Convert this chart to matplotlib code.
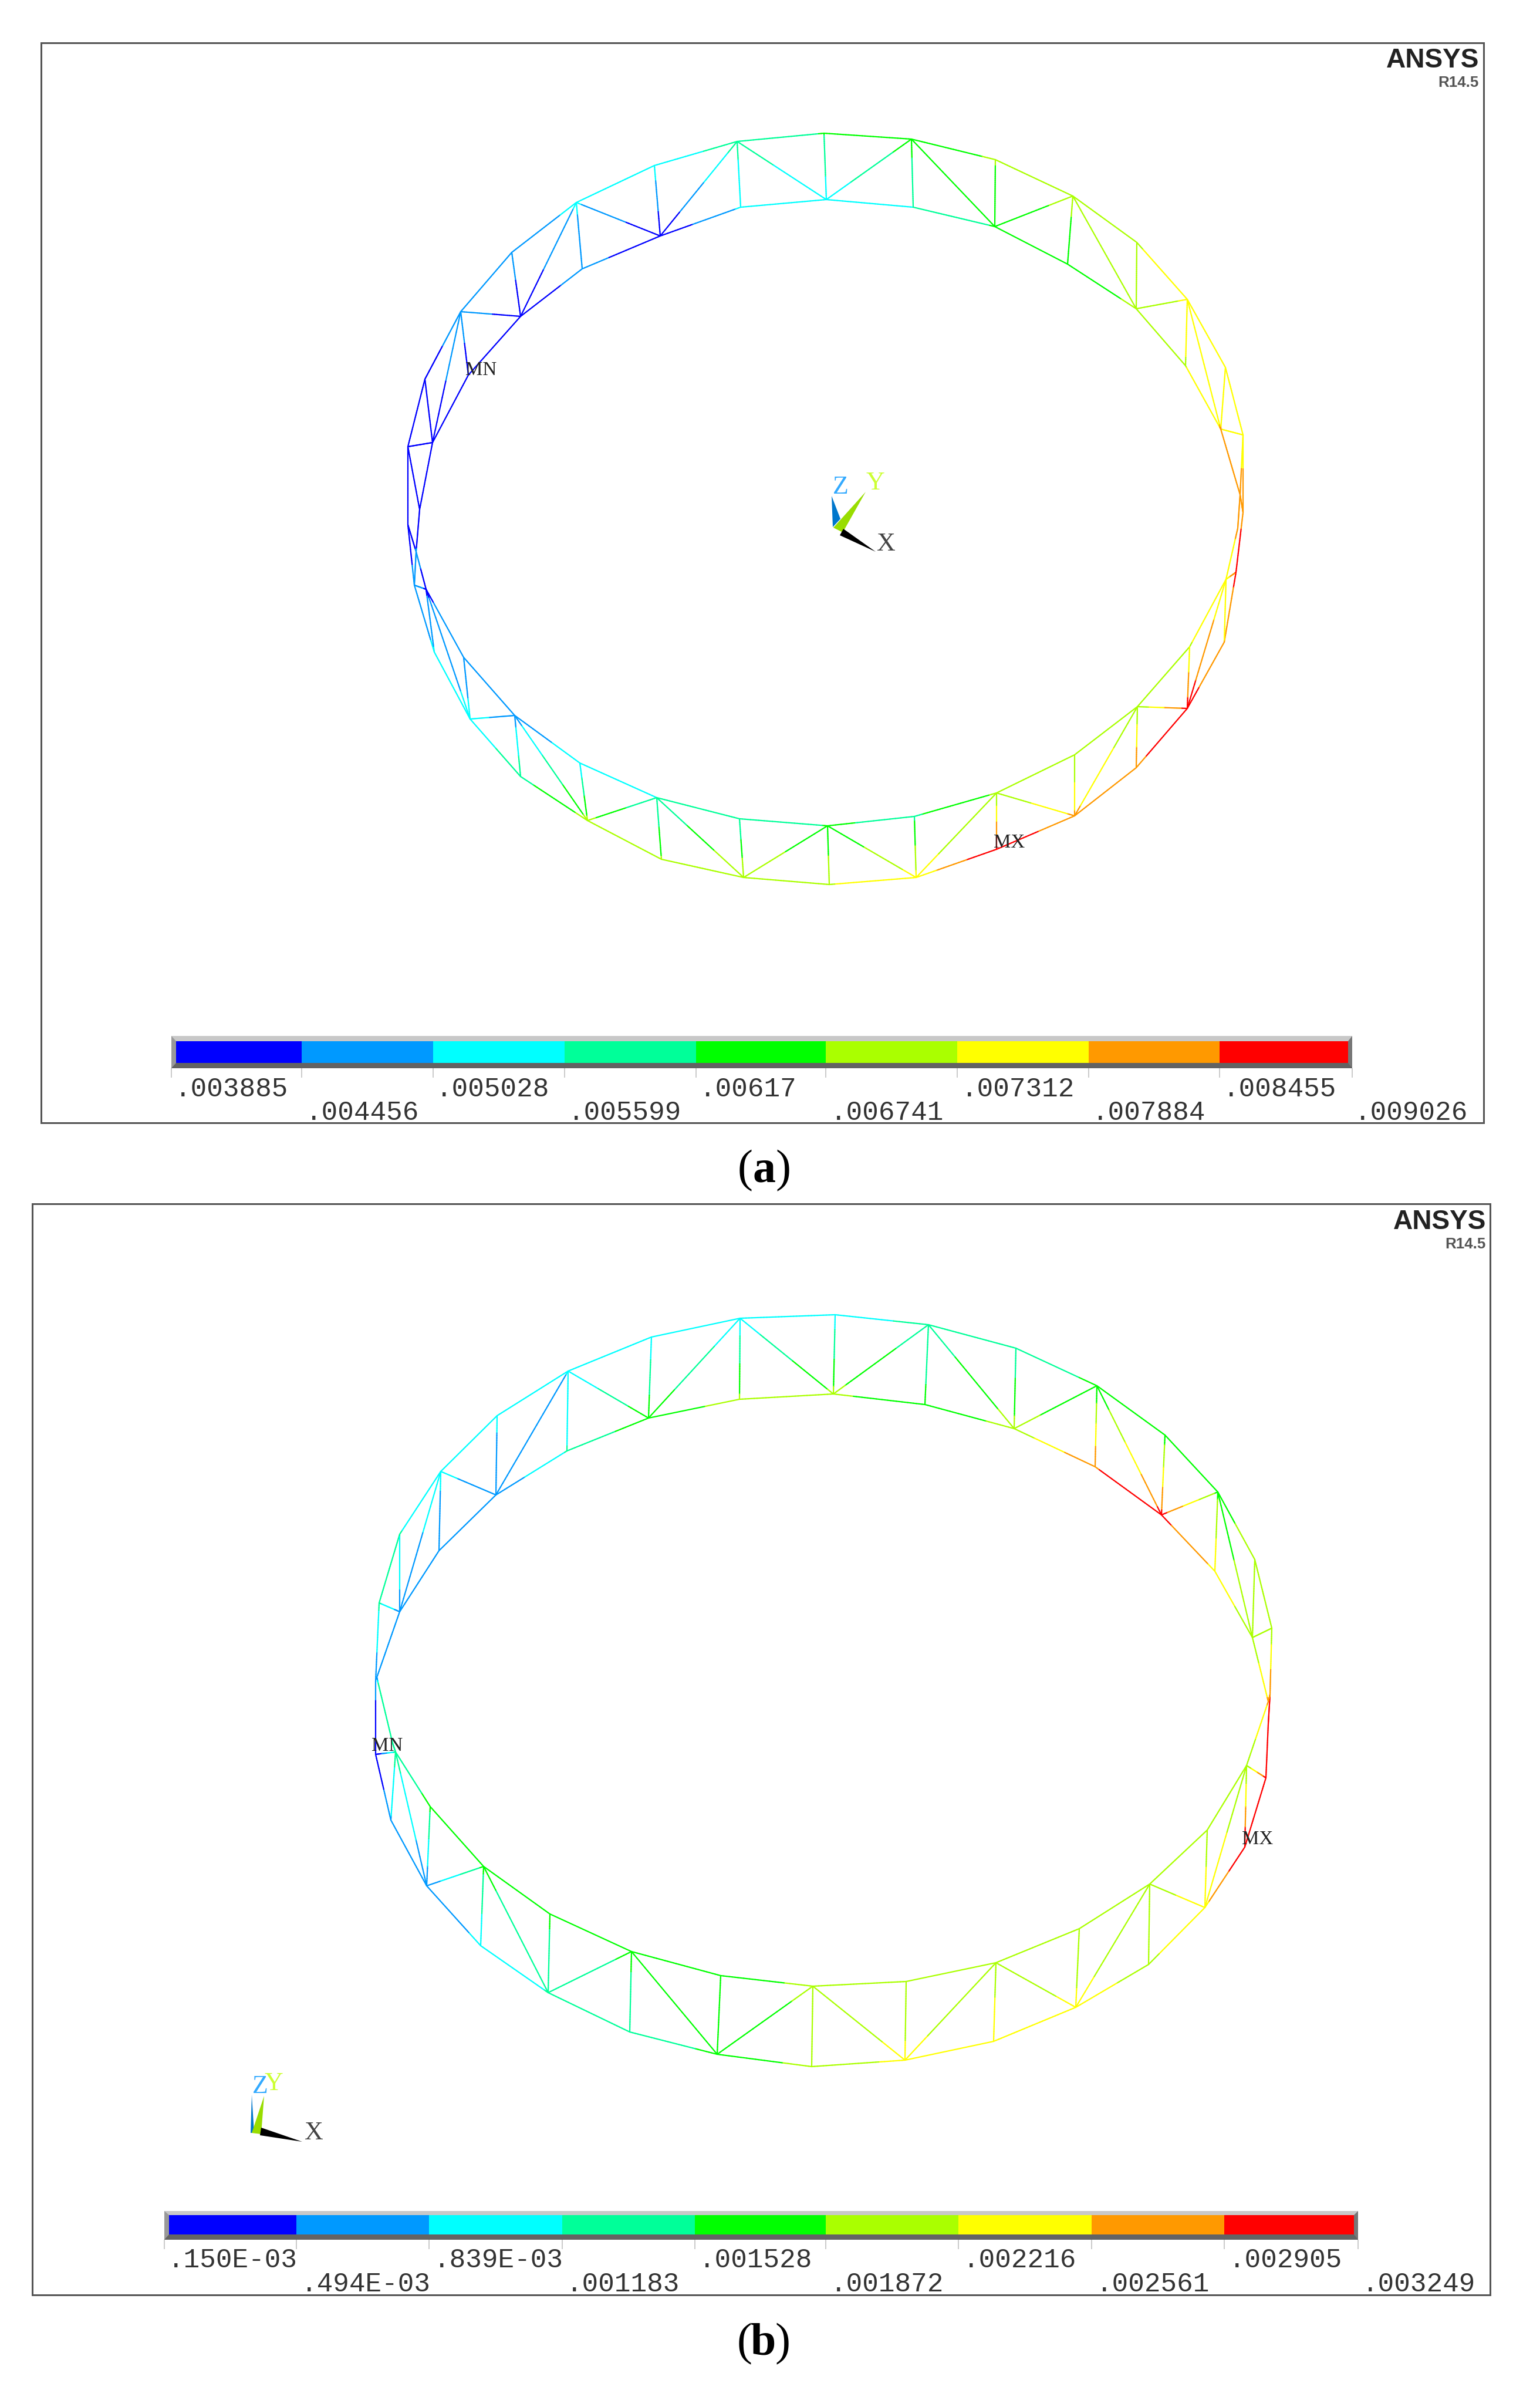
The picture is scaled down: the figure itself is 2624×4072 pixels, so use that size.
import matplotlib
matplotlib.use("Agg")
import matplotlib.pyplot as plt
import numpy as np
from matplotlib.collections import LineCollection
from matplotlib.colors import BoundaryNorm, ListedColormap
from matplotlib.patches import Polygon, Rectangle

# ---- contour bands
band_colors = ["#0000ff", "#0099ff", "#00ffff", "#00ff99", "#00ff00",
               "#aaff00", "#ffff00", "#ff9900", "#ff0000"]

a_levels = [.003885, .004456, .005028, .005599, .00617, .006741, .007312, .007884, .008455, .009026]
a_labels = [".003885", ".004456", ".005028", ".005599", ".00617", ".006741", ".007312", ".007884", ".008455", ".009026"]
b_levels = [.150e-3, .494e-3, .839e-3, .001183, .001528, .001872, .002216, .002561, .002905, .003249]
b_labels = [".150E-03", ".494E-03", ".839E-03", ".001183", ".001528", ".001872", ".002216", ".002561", ".002905", ".003249"]

# ---- panel a nodes (image pixels)
a_outer_x = [695, 724, 751, 785, 872, 982, 1115, 1256, 1404, 1553, 1696, 1828, 1937, 2023, 2088, 2118, 2118,
             2106, 2086, 2023, 1936, 1831, 1698, 1561, 1413, 1267, 1127, 1001, 887, 801, 740, 706, 695]
a_outer_y = [761, 646, 595, 531, 430, 345, 282, 241, 227, 237, 272, 334, 413, 510, 626, 741, 873,
             975, 1094, 1207, 1308, 1390, 1447, 1495, 1507, 1495, 1464, 1398, 1323, 1225, 1111, 997, 894]
a_outer_v = [.0041, .0041, .0044, .0050, .0048, .0051, .0053, .0058, .0062, .0064, .0068, .0070, .0073, .0074, .0074, .0075, .0084,
             .0086, .0079, .0087, .0084, .0080, .0090, .0075, .0073, .0073, .0068, .0069, .0060, .0052, .0051, .0047, .0040]
a_inner_x = [737, 798, 887, 992, 1125, 1262, 1408, 1556, 1695, 1819, 1936, 2020, 2080, 2113, 2109,
             2089, 2027, 1938, 1831, 1698, 1558, 1410, 1260, 1119, 988, 877, 790, 726, 709, 715]
a_inner_y = [754, 639, 539, 458, 402, 353, 340, 353, 386, 450, 526, 623, 731, 843, 900,
             987, 1102, 1204, 1286, 1351, 1391, 1407, 1395, 1359, 1300, 1219, 1120, 1004, 940, 868]
a_inner_v = [.0040, .0039, .0040, .0047, .0040, .0051, .0053, .0056, .0062, .0062, .0069, .0073, .0079, .0082, .0080,
             .0075, .0073, .0069, .0068, .0068, .0061, .0062, .0056, .0056, .0052, .0048, .0047, .0044, .0045, .0040]
a_web = [(0, 0), (1, 0), (3, 0), (3, 1), (3, 2), (4, 2), (5, 2), (5, 3), (5, 4), (6, 4), (7, 4), (7, 5), (7, 6), (8, 6),
         (9, 6), (9, 7), (9, 8), (10, 8), (11, 8), (11, 9), (11, 10), (12, 10), (13, 10), (13, 11), (13, 12), (14, 12),
         (15, 12), (15, 13), (16, 13), (17, 15), (18, 15), (19, 15), (19, 16), (19, 17), (20, 17), (21, 17), (21, 18),
         (21, 19), (22, 19), (23, 19), (23, 20), (23, 21), (24, 21), (25, 21), (25, 22), (25, 23), (26, 23), (27, 23),
         (27, 24), (27, 25), (28, 25), (29, 25), (29, 26), (29, 27), (30, 27), (31, 27), (31, 28), (32, 28), (0, 29)]

# ---- panel b nodes
b_outer_x = [640, 646, 681, 751, 847, 968, 1110, 1261, 1423, 1582, 1731, 1869, 1985, 2075, 2138, 2167, 2164,
             2161, 2157, 2121, 2053, 1957, 1833, 1693, 1542, 1383, 1222, 1073, 934, 819, 727, 666, 640]
b_outer_y = [2865, 2731, 2614, 2507, 2412, 2336, 2278, 2246, 2240, 2257, 2297, 2361, 2445, 2542, 2657, 2774, 2887,
             2937, 3029, 3147, 3250, 3347, 3420, 3478, 3510, 3521, 3500, 3462, 3395, 3315, 3213, 3101, 2989]
b_outer_v = [.60e-3, 1.25e-3, 1.2e-3, .95e-3, .9e-3, .85e-3, .95e-3, .95e-3, 1.0e-3, 1.3e-3, 1.25e-3, 1.6e-3, 1.7e-3, 1.8e-3, 1.95e-3, 2.0e-3, 2.9e-3,
             2.95e-3, 3.1e-3, 3.2e-3, 2.5e-3, 2.15e-3, 2.3e-3, 2.55e-3, 2.3e-3, 2.0e-3, 1.6e-3, 1.3e-3, 1.2e-3, .9e-3, .6e-3, .8e-3, .15e-3]
b_inner_x = [681, 748, 845, 966, 1105, 1260, 1420, 1576, 1728, 1866, 1979, 2070, 2134, 2161, 2124,
             2057, 1959, 1839, 1697, 1544, 1385, 1228, 1076, 937, 824, 733, 674, 669, 644, 642]
b_inner_y = [2746, 2642, 2547, 2472, 2416, 2384, 2375, 2393, 2434, 2499, 2581, 2677, 2790, 2899, 3008,
             3118, 3210, 3286, 3344, 3376, 3384, 3366, 3325, 3261, 3180, 3078, 2985, 2970, 2866, 2858]
b_inner_v = [.7e-3, .5e-3, .6e-3, 1.2e-3, 1.75e-3, 1.95e-3, 1.95e-3, 1.6e-3, 2.0e-3, 2.9e-3, 3.0e-3, 2.5e-3, 1.95e-3, 2.6e-3, 1.95e-3,
             1.95e-3, 1.95e-3, 1.95e-3, 1.95e-3, 1.95e-3, 1.95e-3, 1.7e-3, 1.6e-3, 1.6e-3, 1.6e-3, 1.6e-3, 1.3e-3, 1.2e-3, 1.2e-3, .5e-3]
b_web = [(1, 0), (2, 0), (3, 0), (3, 1), (3, 2), (4, 2), (5, 2), (5, 3), (5, 4), (6, 4), (7, 4), (7, 5), (7, 6), (8, 6),
         (9, 6), (9, 7), (9, 8), (10, 8), (11, 8), (11, 9), (11, 10), (12, 10), (13, 10), (13, 11), (13, 12), (14, 12),
         (15, 12), (16, 13), (18, 14), (19, 14), (20, 14), (20, 15), (20, 16), (21, 16), (22, 16), (22, 17), (22, 18),
         (23, 18), (24, 18), (24, 19), (24, 20), (25, 20), (26, 20), (26, 21), (26, 22), (27, 22), (28, 22), (28, 23),
         (28, 24), (29, 24), (30, 24), (30, 25), (30, 26), (31, 26), (32, 26)]

W, H = 2624, 4072
PX = 0.72  # points per image pixel at dpi 100
MONO = "Liberation Mono"
SERIF = "Liberation Serif"

fig = plt.figure(figsize=(W / 100, H / 100), dpi=100, facecolor="white")


def panel(left, top, right, bottom):
    ax = fig.add_axes([left / W, 1 - bottom / H, (right - left) / W, (bottom - top) / H])
    ax.set_xlim(left, right)
    ax.set_ylim(bottom, top)
    ax.set_xticks([])
    ax.set_yticks([])
    for s in ax.spines.values():
        s.set_linewidth(3 * PX)
        s.set_color("#555555")
    return ax


def draw_truss(ax, ox, oy, ov, ix, iy, iv, web, levels):
    # outer loop, inner loop and web members, coloured in bands like a contour plot
    nodes_x = list(ox) + list(ix)
    nodes_y = list(oy) + list(iy)
    vals = list(ov) + list(iv)
    n_o, n_i = len(ox), len(ix)
    edges = [(k, (k + 1) % n_o) for k in range(n_o)]
    edges += [(n_o + k, n_o + (k + 1) % n_i) for k in range(n_i)]
    edges += [(o, n_o + i) for o, i in web]
    segs, seg_vals = [], []
    for p, q in edges:
        t = np.linspace(0, 1, 33)
        xs = nodes_x[p] + (nodes_x[q] - nodes_x[p]) * t
        ys = nodes_y[p] + (nodes_y[q] - nodes_y[p]) * t
        vs = vals[p] + (vals[q] - vals[p]) * t
        for k in range(len(t) - 1):
            segs.append([(xs[k], ys[k]), (xs[k + 1], ys[k + 1])])
            seg_vals.append((vs[k] + vs[k + 1]) / 2)
    lc = LineCollection(segs, cmap=ListedColormap(band_colors), norm=BoundaryNorm(levels, 9),
                        linewidths=2.2 * PX, capstyle="round")
    lc.set_array(np.clip(seg_vals, levels[0], levels[-1] - 1e-9))
    ax.add_collection(lc)


def legend_bar(ax, levels, labels, tick_x, text_x, bar, text_y):
    x0, x1, y0, fy0, fy1, y1 = bar
    # bevel round the bar
    ax.add_patch(Rectangle((x0, y0), x1 - x0, fy0 - y0, fc="#c8c8c8", ec="none"))
    ax.add_patch(Rectangle((x0, fy1), x1 - x0, y1 - fy1, fc="#636363", ec="none"))
    ax.add_patch(Polygon([(x0, y0), (tick_x[0] + 8, fy0), (tick_x[0] + 8, fy1), (x0, y1)], fc="#999999", ec="none"))
    ax.add_patch(Polygon([(x1, y0), (tick_x[-1] - 7, fy0), (tick_x[-1] - 7, fy1), (x1, y1)], fc="#777777", ec="none"))
    edges = list(tick_x)
    edges[0] += 8
    edges[-1] -= 7
    ax.barh([(fy0 + fy1) / 2] * 9, np.diff(edges), left=edges[:-1], height=fy1 - fy0, color=band_colors, linewidth=0)
    ax.vlines(tick_x, y1, y1 + 16, color="#bbbbbb", lw=1.5 * PX)
    for k, lab in enumerate(labels):
        ax.text(text_x[k] - 4, text_y[k % 2], lab, family=MONO, fontsize=46 * PX, color="#333333",
                ha="left", va="baseline")


def triad(ax, z, y, x, labels):
    ax.add_patch(Polygon(z, fc="#0077cc", ec="none"))
    ax.add_patch(Polygon(y, fc="#99dd00", ec="none"))
    ax.add_patch(Polygon(x, fc="black", ec="none"))
    for (lx, ly, s, c) in labels:
        ax.text(lx, ly, s, family=SERIF, fontsize=44 * PX, color=c, ha="center", va="center")


def caption(ax, x, y, s):
    ax.text(x - 19, y, "(", family=SERIF, fontsize=78 * PX, ha="right", va="baseline", color="black")
    ax.text(x, y, s, family=SERIF, fontsize=78 * PX, weight="bold", ha="center", va="baseline", color="black")
    ax.text(x + 19, y, ")", family=SERIF, fontsize=78 * PX, ha="left", va="baseline", color="black")


def logo(ax, x, y):
    ax.text(x, y, "ANSYS", family="Liberation Sans", weight="bold", fontsize=46 * PX, color="#222222",
            ha="right", va="baseline")
    ax.text(x, y + 33, "R14.5", family="Liberation Sans", weight="bold", fontsize=26 * PX, color="#555555",
            ha="right", va="baseline")


# ---- panel a
ax_a = panel(70, 73, 2528, 1913)
draw_truss(ax_a, a_outer_x, a_outer_y, a_outer_v, a_inner_x, a_inner_y, a_inner_v, a_web, a_levels)
legend_bar(ax_a, a_levels, a_labels,
           [292, 514, 738, 962, 1186, 1407, 1631, 1855, 2078, 2304],
           [302, 525, 747, 972, 1196, 1419, 1642, 1865, 2088, 2312],
           (292, 2304, 1765, 1774, 1811, 1820), (1868, 1908))
triad(ax_a,
      [(1417, 845), (1419, 898), (1432, 884)],
      [(1475, 838), (1420, 899), (1436, 907)],
      [(1437, 901), (1431, 912), (1492, 940)],
      [(1432, 830, "Z", "#33aaff"), (1491, 823, "Y", "#ccff33"), (1510, 927, "X", "#444444")])
ax_a.text(820, 631, "MN", family=SERIF, fontsize=33 * PX, color="#222222", ha="center", va="center")
ax_a.text(1720, 1436, "MX", family=SERIF, fontsize=33 * PX, color="#222222", ha="center", va="center")
logo(ax_a, 2520, 115)
caption(ax_a, 1302, 2013, "a")

# ---- panel b
ax_b = panel(55, 2051, 2539, 3910)
draw_truss(ax_b, b_outer_x, b_outer_y, b_outer_v, b_inner_x, b_inner_y, b_inner_v, b_web, b_levels)
legend_bar(ax_b, b_levels, b_labels,
           [280, 505, 731, 958, 1184, 1407, 1633, 1860, 2086, 2314],
           [290, 517, 743, 969, 1195, 1419, 1645, 1872, 2098, 2325],
           (280, 2314, 3767, 3774, 3807, 3816), (3863, 3904))
triad(ax_b,
      [(429, 3569), (427, 3634), (433, 3634)],
      [(450, 3571), (429, 3634), (445, 3636)],
      [(445, 3625), (443, 3638), (515, 3649)],
      [(443, 3555, "Z", "#33aaff"), (466, 3550, "Y", "#ccff33"), (535, 3634, "X", "#444444")])
ax_b.text(660, 2975, "MN", family=SERIF, fontsize=33 * PX, color="#222222", ha="center", va="center")
ax_b.text(2143, 3134, "MX", family=SERIF, fontsize=33 * PX, color="#222222", ha="center", va="center")
logo(ax_b, 2532, 2094)
caption(ax_b, 1301, 4012, "b")

fig.savefig("out.png", dpi=100, facecolor="white")
